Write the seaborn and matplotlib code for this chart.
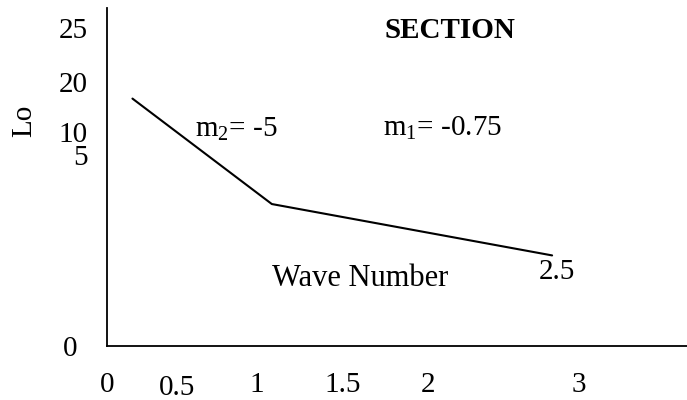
import numpy as np
import pandas as pd
import matplotlib
matplotlib.use("Agg")
import matplotlib.pyplot as plt
import seaborn as sns

# line data
wave_number = [0.17, 1.1, 2.97]
lo_values = [18.3, 10.5, 6.7]

# tick labels as printed in the figure (they are not evenly spaced)
x_tick_labels = ["0", "0.5", "1", "1.5", "2", "3"]
x_tick_pos = [0.0, 0.47, 1.0, 1.57, 2.14, 3.15]
y_tick_labels = ["25", "20", "10", "5", "0"]
y_tick_pos = [23.5, 19.5, 15.8, 14.1, 0.0]

slope_labels = ["m$_2$= -5", "m$_1$= -0.75"]

sns.set_style("white")
plt.rcParams['font.family'] = ['Liberation Serif', 'DejaVu Serif']
plt.rcParams['mathtext.fontset'] = 'custom'
plt.rcParams['mathtext.rm'] = 'Liberation Serif'
plt.rcParams['mathtext.it'] = 'Liberation Serif'
plt.rcParams['text.color'] = 'black'
plt.rcParams['axes.labelcolor'] = 'black'
plt.rcParams['xtick.color'] = 'black'
plt.rcParams['ytick.color'] = 'black'

fs = 21

fig = plt.figure(figsize=(6.87, 4.0), dpi=100)
ax = fig.add_axes([0.1557, 0.135, 0.8443, 0.845])

df = pd.DataFrame({"Wave Number": wave_number, "Lo": lo_values})
sns.lineplot(data=df, x="Wave Number", y="Lo", color="black", linewidth=1.5, ax=ax)

ax.set_xticks(x_tick_pos)
ax.set_xticklabels(x_tick_labels, fontsize=fs)
ax.set_yticks(y_tick_pos)
ax.set_yticklabels(y_tick_labels, fontsize=fs)
ax.set_xlim(0, 3.87)
ax.set_ylim(0, 25)
ax.tick_params(axis='both', length=0)
ax.tick_params(axis='x', pad=19)
ax.tick_params(axis='y', pad=14)

for lab in ax.get_xticklabels():
    if lab.get_text() == "0.5":
        lab.set_y(-0.008)
for lab in ax.get_yticklabels():
    if lab.get_text() == "0":
        lab.set_x(-0.017)
        lab.set_va("center_baseline")

ax.set_xlabel("")
ax.set_ylabel("Lo", fontsize=fs)
ax.yaxis.set_label_coords(-0.121, 0.665)

sns.despine(ax=ax)
for s in ["left", "bottom"]:
    ax.spines[s].set_linewidth(1.3)
    ax.spines[s].set_color("black")

ax.text(1.853, 23.3, "SECTION", fontsize=fs, fontweight="bold", ha="left", va="center")
ax.text(0.59, 16.0, slope_labels[0], fontsize=fs, ha="left", va="center")
ax.text(1.84, 16.1, slope_labels[1], fontsize=fs, ha="left", va="center")
ax.text(1.1, 5.0, "Wave Number", fontsize=22, ha="left", va="center")
ax.text(2.88, 5.5, "2.5", fontsize=fs, ha="left", va="center")

fig.savefig("out.png", dpi=100)
